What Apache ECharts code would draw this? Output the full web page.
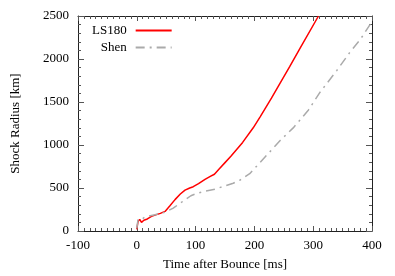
<!DOCTYPE html>
<html>
<head>
<meta charset="utf-8">
<script src="https://cdn.jsdelivr.net/npm/echarts@6/dist/echarts.min.js"></script>
<style>html,body{margin:0;padding:0;background:#fff}#c{width:395px;height:276px}</style>
</head>
<body>
<div id="c"></div>
<script>
const ls180Time = [0, 2, 5, 8, 12, 18, 25, 31, 40, 48, 56, 65, 74, 82, 90, 96, 105, 116, 125, 132, 140, 150, 160, 180, 198, 210, 229, 243, 260, 278, 309];
const ls180Radius = [20, 110, 135, 100, 125, 140, 170, 185, 205, 228, 290, 365, 430, 476, 500, 515, 550, 600, 635, 660, 720, 795, 870, 1030, 1200, 1330, 1545, 1712, 1910, 2130, 2500];
const shenTime = [0, 2, 6, 14, 31, 48, 62, 72, 82, 92, 102, 116, 133, 150, 164, 175, 192, 215, 243, 266, 278, 292, 312, 340, 362, 380, 400];
const shenRadius = [30, 130, 125, 163, 190, 220, 266, 315, 362, 410, 437, 464, 487, 525, 555, 590, 666, 837, 1047, 1199, 1294, 1408, 1617, 1865, 2074, 2226, 2435];
const xTicks = [-100, 0, 100, 200, 300, 400];
const yTicks = [0, 500, 1000, 1500, 2000, 2500];

const font = 'Liberation Serif';
const pair = (xs, ys) => xs.map((x, i) => [x, ys[i]]);
const axisColor = '#222';
const tickColor = '#555';
const plain = v => String(v);
const xBase = {
  type: 'value', min: xTicks[0], max: xTicks[xTicks.length - 1], interval: 100,
  axisLine: { show: true, onZero: false, lineStyle: { color: axisColor, width: 1 } },
  axisTick: { show: true, inside: true, length: 5, lineStyle: { color: tickColor } },
  minorTick: { show: true, splitNumber: 10, length: 3, lineStyle: { color: tickColor } },
  splitLine: { show: false }
};
const yBase = {
  type: 'value', min: yTicks[0], max: yTicks[yTicks.length - 1], interval: 500,
  axisLine: { show: true, onZero: false, lineStyle: { color: axisColor, width: 1 } },
  axisTick: { show: true, inside: true, length: 6, lineStyle: { color: tickColor } },
  minorTick: { show: true, splitNumber: 5, length: 3, lineStyle: { color: tickColor } },
  splitLine: { show: false }
};
const chart = echarts.init(document.getElementById('c'), null, { renderer: 'canvas' });
chart.setOption({
  animation: false,
  backgroundColor: '#fff',
  textStyle: { fontFamily: font },
  grid: { left: 78, right: 23, top: 16, bottom: 41 },
  legend: {
    left: 87, top: 19, orient: 'vertical', align: 'right',
    itemWidth: 36, itemHeight: 12, itemGap: 4,
    itemStyle: { opacity: 0 },
    textStyle: { fontFamily: font, fontSize: 13, color: '#000', width: 36, align: 'right', padding: [0, 4, 0, 0] },
    data: ['LS180', 'Shen']
  },
  xAxis: [
    Object.assign({}, xBase, {
      position: 'bottom',
      name: 'Time after Bounce [ms]', nameLocation: 'middle', nameGap: 27,
      nameTextStyle: { fontFamily: font, fontSize: 13, color: '#000' },
      axisLabel: { show: true, fontFamily: font, fontSize: 13, color: '#000', margin: 8, formatter: plain }
    }),
    Object.assign({}, xBase, { position: 'top', axisLabel: { show: false } })
  ],
  yAxis: [
    Object.assign({}, yBase, {
      position: 'left',
      name: 'Shock Radius [km]', nameLocation: 'middle', nameGap: 56,
      nameTextStyle: { fontFamily: font, fontSize: 13, color: '#000' },
      axisLabel: { show: true, fontFamily: font, fontSize: 13, color: '#000', margin: 9, formatter: plain }
    }),
    Object.assign({}, yBase, { position: 'right', axisLabel: { show: false } })
  ],
  series: [
    {
      name: 'LS180', type: 'line', data: pair(ls180Time, ls180Radius),
      showSymbol: false, symbol: 'none', clip: true,
      lineStyle: { color: '#ff0000', width: 1.5 }, itemStyle: { color: '#ff0000' }
    },
    {
      name: 'Shen', type: 'line', data: pair(shenTime, shenRadius),
      showSymbol: false, symbol: 'none', clip: true,
      lineStyle: { color: '#aaaaaa', width: 1.5, type: [9, 5, 2, 5] }, itemStyle: { color: '#aaaaaa' }
    }
  ]
});
</script>
</body>
</html>
